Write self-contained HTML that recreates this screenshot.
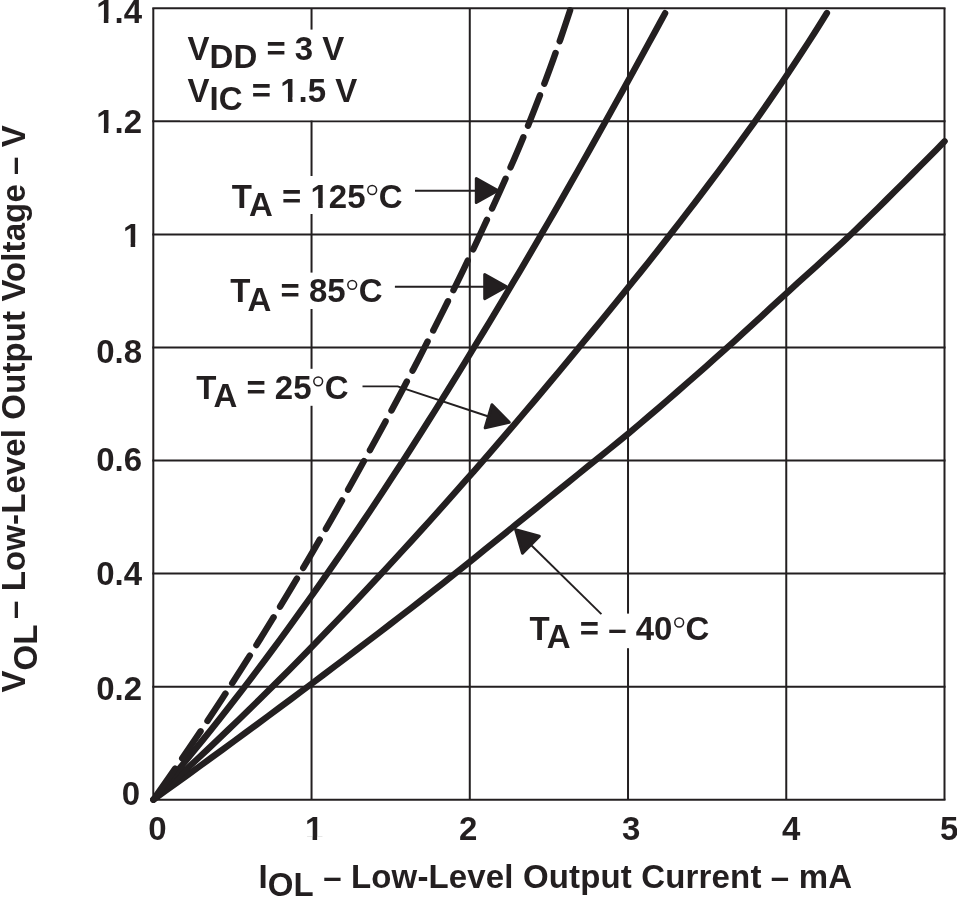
<!DOCTYPE html>
<html><head><meta charset="utf-8"><title>chart</title>
<style>
html,body{margin:0;padding:0;background:#fff;}
svg{display:block;will-change:transform}
text{font-family:"Liberation Sans",sans-serif;font-weight:bold;font-size:33px;fill:#231f20;}
.g{stroke:#231f20;stroke-width:2.0;fill:none}
.c{stroke:#231f20;stroke-width:6.4;fill:none;stroke-linecap:round;stroke-linejoin:round}
.l{stroke:#231f20;stroke-width:1.9;fill:none;stroke-linejoin:round}
.a{fill:#231f20;stroke:#231f20;stroke-width:3;stroke-linejoin:round}
.r{fill:none;stroke:#231f20;stroke-width:1.5}
.h{fill:none}
</style></head><body>
<svg width="957" height="898" viewBox="0 0 957 898">
<rect width="957" height="898" fill="#fff"/>
<line class="g" x1="153.30" y1="8.30" x2="153.30" y2="799.75"/>
<line class="g" x1="311.54" y1="8.30" x2="311.54" y2="799.75"/>
<line class="g" x1="469.78" y1="8.30" x2="469.78" y2="799.75"/>
<line class="g" x1="628.02" y1="8.30" x2="628.02" y2="799.75"/>
<line class="g" x1="786.26" y1="8.30" x2="786.26" y2="799.75"/>
<line class="g" x1="944.50" y1="8.30" x2="944.50" y2="799.75"/>
<line class="g" x1="152.30" y1="799.75" x2="945.50" y2="799.75"/>
<line class="g" x1="152.30" y1="686.69" x2="945.50" y2="686.69"/>
<line class="g" x1="152.30" y1="573.62" x2="945.50" y2="573.62"/>
<line class="g" x1="152.30" y1="460.56" x2="945.50" y2="460.56"/>
<line class="g" x1="152.30" y1="347.49" x2="945.50" y2="347.49"/>
<line class="g" x1="152.30" y1="234.43" x2="945.50" y2="234.43"/>
<line class="g" x1="152.30" y1="121.36" x2="945.50" y2="121.36"/>
<line class="g" x1="152.30" y1="8.30" x2="945.50" y2="8.30"/>
<rect x="225" y="176" width="185" height="38" fill="#fff"/>
<rect x="225" y="272.6" width="165" height="36.4" fill="#fff"/>
<rect x="190" y="368.8" width="165" height="37" fill="#fff"/>
<rect x="525" y="613.6" width="190" height="34.6" fill="#fff"/>
<rect x="180" y="29.6" width="200" height="90.7" fill="#fff"/>
<path class="c" d="M153.40,799.60 L165.02,791.27 L176.61,782.93 L188.15,774.60 L199.66,766.27 L211.13,757.94 L222.57,749.60 L233.96,741.27 L245.32,732.94 L256.64,724.60 L267.92,716.27 L279.16,707.94 L290.36,699.61 L301.53,691.27 L312.65,682.94 L323.75,674.61 L334.82,666.27 L345.85,657.94 L356.86,649.61 L367.83,641.27 L378.75,632.94 L389.64,624.61 L400.48,616.28 L411.27,607.94 L422.01,599.61 L432.70,591.28 L443.33,582.94 L453.90,574.61 L464.29,566.28 L474.60,557.95 L484.93,549.61 L495.26,541.28 L505.58,532.95 L515.90,524.61 L526.21,516.28 L536.52,507.95 L546.83,499.62 L557.13,491.28 L567.43,482.95 L577.73,474.62 L588.01,466.28 L598.31,457.95 L608.66,449.62 L618.96,441.28 L629.05,432.95 L638.97,424.62 L648.79,416.29 L658.53,407.95 L668.19,399.62 L677.78,391.29 L687.31,382.95 L696.78,374.62 L706.19,366.29 L715.57,357.96 L724.90,349.62 L734.18,341.29 L743.34,332.96 L752.42,324.62 L761.46,316.29 L770.47,307.96 L779.51,299.63 L788.60,291.29 L797.77,282.96 L806.99,274.63 L816.22,266.29 L825.42,257.96 L834.55,249.63 L843.56,241.29 L852.41,232.96 L861.09,224.63 L869.64,216.30 L878.10,207.96 L886.51,199.63 L894.89,191.30 L903.27,182.96 L911.62,174.63 L919.92,166.30 L928.19,157.97 L936.41,149.63 L944.60,141.30"/>
<path class="c" d="M153.40,799.60 L164.31,789.64 L175.13,779.69 L185.89,769.73 L196.56,759.77 L207.15,749.82 L217.67,739.86 L228.10,729.90 L238.45,719.94 L248.72,709.99 L258.90,700.03 L269.00,690.07 L279.01,680.12 L288.93,670.16 L298.77,660.20 L308.52,650.25 L318.20,640.29 L327.81,630.33 L337.35,620.37 L346.83,610.42 L356.25,600.46 L365.62,590.50 L374.94,580.55 L384.21,570.59 L393.43,560.63 L402.60,550.68 L411.70,540.72 L420.76,530.76 L429.75,520.81 L438.70,510.85 L447.60,500.89 L456.45,490.93 L465.25,480.98 L474.01,471.02 L482.72,461.06 L491.39,451.11 L500.00,441.15 L508.57,431.19 L517.09,421.24 L525.56,411.28 L533.99,401.32 L542.39,391.36 L550.74,381.41 L559.06,371.45 L567.35,361.49 L575.61,351.54 L583.85,341.58 L592.06,331.62 L600.26,321.67 L608.42,311.71 L616.56,301.75 L624.66,291.79 L632.71,281.84 L640.72,271.88 L648.67,261.92 L656.56,251.97 L664.39,242.01 L672.15,232.05 L679.86,222.10 L687.53,212.14 L695.16,202.18 L702.74,192.23 L710.27,182.27 L717.74,172.31 L725.15,162.35 L732.50,152.40 L739.78,142.44 L746.99,132.48 L754.13,122.53 L761.17,112.57 L768.12,102.61 L774.98,92.66 L781.75,82.70 L788.44,72.74 L795.06,62.78 L801.60,52.83 L808.06,42.87 L814.42,32.91 L820.70,22.96 L826.90,13.00"/>
<path class="c" d="M153.40,799.60 L161.81,789.65 L170.16,779.69 L178.44,769.74 L186.65,759.78 L194.79,749.83 L202.86,739.87 L210.86,729.92 L218.78,719.96 L226.63,710.01 L234.41,700.06 L242.11,690.10 L249.74,680.15 L257.29,670.19 L264.76,660.24 L272.17,650.28 L279.51,640.33 L286.79,630.37 L294.00,620.42 L301.17,610.47 L308.28,600.51 L315.34,590.56 L322.35,580.60 L329.32,570.65 L336.24,560.69 L343.11,550.74 L349.92,540.78 L356.69,530.83 L363.40,520.88 L370.08,510.92 L376.70,500.97 L383.29,491.01 L389.83,481.06 L396.34,471.10 L402.81,461.15 L409.25,451.19 L415.63,441.24 L421.98,431.29 L428.28,421.33 L434.54,411.38 L440.77,401.42 L446.97,391.47 L453.13,381.51 L459.27,371.56 L465.39,361.61 L471.48,351.65 L477.55,341.70 L483.60,331.74 L489.62,321.79 L495.61,311.83 L501.57,301.88 L507.51,291.92 L513.42,281.97 L519.31,272.02 L525.17,262.06 L531.01,252.11 L536.83,242.15 L542.62,232.20 L548.39,222.24 L554.13,212.29 L559.84,202.33 L565.52,192.38 L571.19,182.43 L576.83,172.47 L582.46,162.52 L588.07,152.56 L593.66,142.61 L599.25,132.65 L604.82,122.70 L610.38,112.74 L615.92,102.79 L621.45,92.84 L626.96,82.88 L632.46,72.93 L637.94,62.97 L643.40,53.02 L648.85,43.06 L654.28,33.11 L659.70,23.15 L665.10,13.20"/>
<path class="c" stroke-dasharray="32.70 12.43" stroke-dashoffset="39.92" d="M153.40,799.60 L160.46,789.59 L167.47,779.58 L174.43,769.57 L181.33,759.56 L188.18,749.55 L194.98,739.54 L201.72,729.53 L208.41,719.52 L215.04,709.51 L221.62,699.50 L228.14,689.49 L234.60,679.48 L241.00,669.47 L247.36,659.46 L253.66,649.45 L259.91,639.44 L266.12,629.43 L272.27,619.42 L278.38,609.41 L284.45,599.40 L290.47,589.39 L296.45,579.38 L302.39,569.37 L308.27,559.36 L314.11,549.35 L319.91,539.34 L325.66,529.33 L331.37,519.32 L337.04,509.31 L342.68,499.30 L348.29,489.29 L353.86,479.28 L359.41,469.27 L364.93,459.26 L370.43,449.25 L375.90,439.24 L381.35,429.23 L386.77,419.22 L392.16,409.21 L397.51,399.19 L402.83,389.18 L408.11,379.17 L413.35,369.16 L418.55,359.15 L423.70,349.14 L428.82,339.13 L433.91,329.12 L438.97,319.11 L444.00,309.10 L448.99,299.09 L453.95,289.08 L458.86,279.07 L463.72,269.06 L468.54,259.05 L473.30,249.04 L478.00,239.03 L482.65,229.02 L487.27,219.01 L491.87,209.00 L496.43,198.99 L500.95,188.98 L505.42,178.97 L509.83,168.96 L514.18,158.95 L518.45,148.94 L522.64,138.93 L526.74,128.92 L530.75,118.91 L534.68,108.90 L538.56,98.89 L542.38,88.88 L546.13,78.87 L549.83,68.86 L553.46,58.85 L557.03,48.84 L560.53,38.83 L563.96,28.82 L567.31,18.81 L570.60,8.80"/>
<path class="l" d="M415,190.7 L478,190.7"/>
<path class="a" d="M497.80,190.50 L476.30,202.50 L476.30,178.50 Z"/>
<path class="l" d="M394.9,286.7 L487,286.7"/>
<path class="a" d="M506.20,286.60 L484.70,298.60 L484.70,274.60 Z"/>
<path class="l" d="M362.5,386.4 L397.6,386.4 L490,417"/>
<path class="a" d="M509.20,422.40 L485.18,427.80 L491.99,404.79 Z"/>
<path class="l" d="M601.4,614.1 L529,543"/>
<path class="a" d="M515.60,529.60 L539.35,536.11 L522.52,553.23 Z"/>
<text transform="translate(187.6,60.2) scale(1,1.03)" >V<tspan dy="7.96">DD</tspan><tspan dy="-7.96"> = 3 V</tspan></text>
<text transform="translate(187.6,101.5) scale(1,1.03)" >V<tspan dy="7.96">IC</tspan><tspan dy="-7.96"> = 1.5 V</tspan></text>
<text transform="translate(231.8,207.5) scale(1,1.03)" >T<tspan dy="7.96" dx="-2.9">A</tspan><tspan dy="-7.96"> = 125<tspan class="h">°</tspan>C</tspan></text>
<text transform="translate(230.3,302.3) scale(1,1.03)" >T<tspan dy="7.96" dx="-2.9">A</tspan><tspan dy="-7.96"> = 85<tspan class="h">°</tspan>C</tspan></text>
<text transform="translate(196.2,398.8) scale(1,1.03)" >T<tspan dy="7.96" dx="-2.9">A</tspan><tspan dy="-7.96"> = 25<tspan class="h">°</tspan>C</tspan></text>
<text transform="translate(529.5,640) scale(1,1.03)" >T<tspan dy="7.96" dx="-2.9">A</tspan><tspan dy="-7.96"> = – 40<tspan class="h">°</tspan>C</tspan></text>
<circle class="r" cx="372.2" cy="190.0" r="4.4"/>
<circle class="r" cx="352.2" cy="284.8" r="4.4"/>
<circle class="r" cx="318.2" cy="381.3" r="4.4"/>
<circle class="r" cx="679.2" cy="622.5" r="4.4"/>
<text transform="translate(140.0,805.0) scale(1,1.03)" text-anchor="end">0</text>
<text transform="translate(142.0,700.4) scale(1,1.03)" text-anchor="end">0.2</text>
<text transform="translate(142.0,585.0) scale(1,1.03)" text-anchor="end">0.4</text>
<text transform="translate(142.0,470.8) scale(1,1.03)" text-anchor="end">0.6</text>
<text transform="translate(142.0,362.8) scale(1,1.03)" text-anchor="end">0.8</text>
<text transform="translate(141.3,246.8) scale(1,1.03)" text-anchor="end">1</text>
<text transform="translate(142.0,132.7) scale(1,1.03)" text-anchor="end">1.2</text>
<text transform="translate(142.0,23.0) scale(1,1.03)" text-anchor="end">1.4</text>
<text transform="translate(148.2,840.2) scale(1,1.03)">0</text>
<text transform="translate(304.9,840.2) scale(1,1.03)">1</text>
<text transform="translate(458.9,840.2) scale(1,1.03)">2</text>
<text transform="translate(622.0,840.2) scale(1,1.03)">3</text>
<text transform="translate(782.0,840.2) scale(1,1.03)">4</text>
<text transform="translate(939.9,840.2) scale(1,1.03)">5</text>
<text transform="translate(258.4,887.8) scale(1,1.03)" letter-spacing="0.155">I<tspan dy="7.96">OL</tspan><tspan dy="-7.96"> – Low-Level Output Current – mA</tspan></text>
<text transform="translate(25.1,692.5) rotate(-90) scale(1,1.03)">V<tspan dy="11.46">OL</tspan><tspan dy="-11.46" dx="-3.5" letter-spacing="0.11"> – Low-Level Output Voltage – V</tspan></text>
<rect x="97.33" y="19.03" width="6.50" height="4.77" fill="#fff"/><rect x="108.36" y="19.03" width="6.00" height="4.77" fill="#fff"/>
<rect x="97.33" y="128.73" width="6.50" height="4.77" fill="#fff"/><rect x="108.36" y="128.73" width="6.00" height="4.77" fill="#fff"/>
<rect x="124.15" y="242.83" width="6.50" height="4.77" fill="#fff"/><rect x="135.18" y="242.83" width="6.00" height="4.77" fill="#fff"/>
<rect x="306.10" y="836.23" width="6.50" height="4.77" fill="#fff"/><rect x="317.13" y="836.23" width="6.00" height="4.77" fill="#fff"/>
<rect x="311.70" y="203.53" width="6.50" height="4.77" fill="#fff"/><rect x="322.73" y="203.53" width="6.00" height="4.77" fill="#fff"/>
<rect x="281.42" y="97.53" width="6.50" height="4.77" fill="#fff"/><rect x="292.45" y="97.53" width="6.00" height="4.77" fill="#fff"/>
</svg></body></html>
